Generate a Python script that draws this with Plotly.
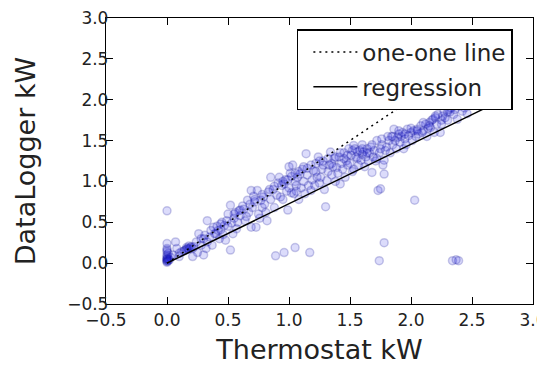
import plotly.graph_objects as go

# Scatter data: (Thermostat kW, DataLogger kW)
thermostat_kw = [
    0.0, 0.0, 0.0, 0.0, 0.0, 0.01, 0.0, 0.0, 0.0, 0.0, 0.0, 0.01, 0.02, 0.0, 0.0, 0.03, 0.0, 0.01,
    0.15, 0.16, 0.17, 0.18, 0.19, 0.2, 0.16, 0.14, 0.21, 0.12, 0.18, 0.22,
    0.07, 0.1, 0.1, 0.21, 0.3, 0.25, 0.28, 0.24, 0.33, 0.3, 0.26, 0.37, 0.35, 0.33, 0.4, 0.32, 0.08, 0.05,
    0.39, 0.42, 0.44, 0.45, 0.47, 0.46, 0.5, 0.52, 0.52, 0.54, 0.55, 0.56, 0.58, 0.6, 0.6, 0.43, 0.48, 0.38, 0.57, 0.5, 0.53,
    0.62, 0.64, 0.66, 0.67, 0.69, 0.69, 0.7, 0.72, 0.73, 0.74, 0.75, 0.77, 0.78, 0.79, 0.8, 0.82, 0.83, 0.85, 0.85, 0.87, 0.88, 0.65, 0.71, 0.76, 0.81, 0.9,
    0.89, 0.93, 0.94, 0.96, 0.96, 0.97, 0.98, 0.99, 1.0, 1.01, 1.02, 1.03, 1.04, 1.05, 1.05, 1.06, 1.07, 1.08, 1.09, 1.1, 1.11, 1.12, 1.13, 1.14, 1.15, 1.16, 1.17, 1.18, 1.19, 0.92, 0.95, 1.0, 1.06,
    1.2, 1.21, 1.22, 1.23, 1.25, 1.26, 1.27, 1.28, 1.3, 1.31, 1.32, 1.33, 1.34, 1.35, 1.36, 1.37, 1.38, 1.39, 1.4, 1.41, 1.42, 1.43, 1.44, 1.45, 1.46, 1.47, 1.48, 1.49, 1.24, 1.29,
    1.5, 1.51, 1.52, 1.53, 1.53, 1.55, 1.56, 1.57, 1.58, 1.59, 1.6, 1.61, 1.62, 1.63, 1.64, 1.65, 1.66, 1.67, 1.68, 1.69, 1.7, 1.71, 1.72, 1.73, 1.74, 1.74, 1.75, 1.75, 1.76, 1.77, 1.78, 1.78, 1.78, 1.79, 1.54, 1.6,
    1.8, 1.82, 1.83, 1.84, 1.85, 1.86, 1.87, 1.88, 1.89, 1.9, 1.91, 1.92, 1.93, 1.95, 1.96, 1.97, 1.98, 2.0, 2.01, 2.02, 2.03, 2.04, 2.05, 2.06, 2.08, 2.09, 1.94,
    2.1, 2.12, 2.13, 2.14, 2.15, 2.16, 2.17, 2.18, 2.19, 2.2, 2.21, 2.22, 2.24, 2.25, 2.26, 2.27, 2.28, 2.3, 2.31, 2.32, 2.33, 2.34, 2.35, 2.36, 2.37, 2.38, 2.39, 2.4, 2.42, 2.44, 2.46, 2.48, 2.5, 2.45, 2.52,
    0.28, 0.31, 0.36, 0.41, 0.44, 0.49, 0.55, 0.59, 0.63, 0.68, 0.72, 0.78, 0.84, 0.88, 0.91, 0.95, 0.99, 1.02, 1.05, 1.08,
    1.12, 1.15, 1.18, 1.22, 1.25, 1.28, 1.32, 1.35, 1.38, 1.42, 1.45, 1.48, 1.52, 1.56, 1.6, 1.64, 1.68, 1.72, 1.76, 1.81,
    1.85, 1.9, 1.95, 2.0, 2.05, 2.1, 2.15, 2.2, 2.25, 2.3,
]
datalogger_kw = [
    0.02, 0.03, 0.04, 0.05, 0.06, 0.03, 0.08, 0.1, 0.14, 0.16, 0.18, 0.05, 0.04, 0.24, 0.64, 0.07, 0.01, 0.12,
    0.16, 0.17, 0.18, 0.17, 0.19, 0.2, 0.19, 0.15, 0.18, 0.14, 0.21, 0.2,
    0.26, 0.12, 0.08, 0.08, 0.1, 0.13, 0.22, 0.26, 0.26, 0.3, 0.36, 0.22, 0.32, 0.52, 0.36, 0.18, 0.18, 0.1,
    0.36, 0.4, 0.41, 0.5, 0.46, 0.35, 0.45, 0.16, 0.71, 0.36, 0.55, 0.62, 0.5, 0.65, 0.58, 0.3, 0.28, 0.44, 0.42, 0.6, 0.49,
    0.7, 0.52, 0.77, 0.62, 0.44, 0.89, 0.68, 0.75, 0.44, 0.89, 0.6, 0.77, 0.68, 0.81, 0.72, 0.52, 0.87, 1.05, 0.78, 0.9, 0.68, 0.57, 0.82, 0.55, 0.62, 0.83,
    0.09, 0.81, 0.95, 0.97, 0.13, 1.02, 0.88, 0.65, 0.92, 1.1, 0.86, 1.2, 0.85, 0.19, 1.0, 0.95, 1.05, 0.78, 1.09, 0.92, 1.15, 1.0, 0.85, 1.34, 1.08, 0.95, 0.13, 0.89, 1.02, 1.05, 0.78, 1.18, 0.88,
    1.13, 0.95, 1.22, 1.05, 0.98, 1.05, 1.15, 1.25, 0.69, 1.01, 1.12, 1.2, 1.36, 1.08, 1.18, 1.28, 1.0, 1.17, 1.1, 1.3, 0.97, 1.22, 1.15, 1.35, 1.05, 1.25, 1.2, 1.4, 1.3, 0.9,
    1.22, 1.32, 1.12, 1.44, 1.15, 1.3, 1.28, 1.2, 1.38, 1.26, 1.33, 1.36, 1.18, 1.3, 1.4, 1.25, 1.35, 1.42, 1.11, 1.3, 1.38, 1.25, 1.28, 0.89, 0.03, 1.35, 1.4, 0.91, 1.45, 1.2, 1.26, 1.09, 0.25, 1.38, 1.4, 1.45,
    1.42, 1.5, 1.35, 1.55, 1.45, 1.64, 1.5, 1.4, 1.54, 1.58, 1.48, 1.55, 1.6, 1.52, 1.45, 1.64, 1.56, 1.6, 1.5, 1.62, 0.77, 1.55, 1.64, 1.58, 1.68, 1.6, 1.4,
    1.62, 1.7, 1.55, 1.65, 1.72, 1.66, 1.75, 1.76, 1.6, 1.78, 1.7, 1.82, 1.6, 1.75, 1.8, 1.85, 1.78, 1.85, 1.88, 1.85, 1.9, 0.03, 1.82, 1.88, 0.04, 1.76, 0.03, 1.92, 1.86, 1.9, 1.83, 1.95, 1.98, 2.0, 1.95,
    0.3, 0.34, 0.4, 0.45, 0.48, 0.52, 0.6, 0.64, 0.66, 0.72, 0.78, 0.84, 0.9, 0.94, 0.98, 1.0, 1.02, 1.06, 1.1, 1.12,
    1.18, 1.16, 1.2, 1.12, 1.25, 1.2, 1.28, 1.22, 1.3, 1.35, 1.28, 1.32, 1.38, 1.36, 1.4, 1.35, 1.45, 1.5, 1.52, 1.55,
    1.55, 1.62, 1.58, 1.65, 1.62, 1.72, 1.68, 1.8, 1.7, 1.75,
]
assert len(thermostat_kw) == len(datalogger_kw)

# Reference lines
line_x = [0.0, 2.6]
one_one_y = [0.0, 2.6]
reg_slope = 0.727
reg_intercept = 0.0
regression_y = [reg_intercept + reg_slope * v for v in line_x]

axis_ticks = [-0.5, 0.0, 0.5, 1.0, 1.5, 2.0, 2.5, 3.0]
tick_text = ["\u22120.5", "0.0", "0.5", "1.0", "1.5", "2.0", "2.5", "3.0"]

fig = go.Figure()
fig.add_trace(go.Scatter(
    x=thermostat_kw, y=datalogger_kw, mode="markers", showlegend=False,
    marker=dict(size=8, color="rgba(20,20,230,0.15)",
                line=dict(color="rgba(20,20,150,0.22)", width=1.5)),
))
fig.add_trace(go.Scatter(
    x=line_x, y=one_one_y, mode="lines", name="one-one line", legendgroup="a",
    line=dict(color="black", width=1.5, dash="2px,4px"),
))
fig.add_trace(go.Scatter(
    x=line_x, y=regression_y, mode="lines", name="regression", legendgroup="b",
    line=dict(color="black", width=1.5),
))

axis_common = dict(
    range=[-0.5, 3.0], tickvals=axis_ticks, ticktext=tick_text, automargin=False,
    showgrid=False, zeroline=False, showline=True, linecolor="black", linewidth=1.3,
    mirror="ticks", ticks="inside", ticklen=7, tickcolor="black", tickwidth=1,
    ticklabeloverflow="allow",
    tickfont=dict(family="DejaVu Sans", size=17, color="#222"),
)
fig.update_xaxes(**axis_common,
                 title=dict(text="Thermostat kW", font=dict(family="DejaVu Sans", size=27, color="#222"), standoff=11))
fig.update_yaxes(**axis_common, ticklabelstandoff=-7,
                 title=dict(text="DataLogger kW", font=dict(family="DejaVu Sans", size=27, color="#222"), standoff=23))

fig.update_layout(
    template="none",
    width=545, height=366,
    margin=dict(l=98, r=20, t=10, b=70),
    plot_bgcolor="white", paper_bgcolor="white",
    legend=dict(x=0.447, y=0.9615, xanchor="left", yanchor="top",
                bgcolor="white", bordercolor="black", borderwidth=1.5,
                font=dict(family="DejaVu Sans", size=23, color="#222"),
                tracegroupgap=2, itemwidth=44, indentation=10),
)
fig.write_html("out.html")
